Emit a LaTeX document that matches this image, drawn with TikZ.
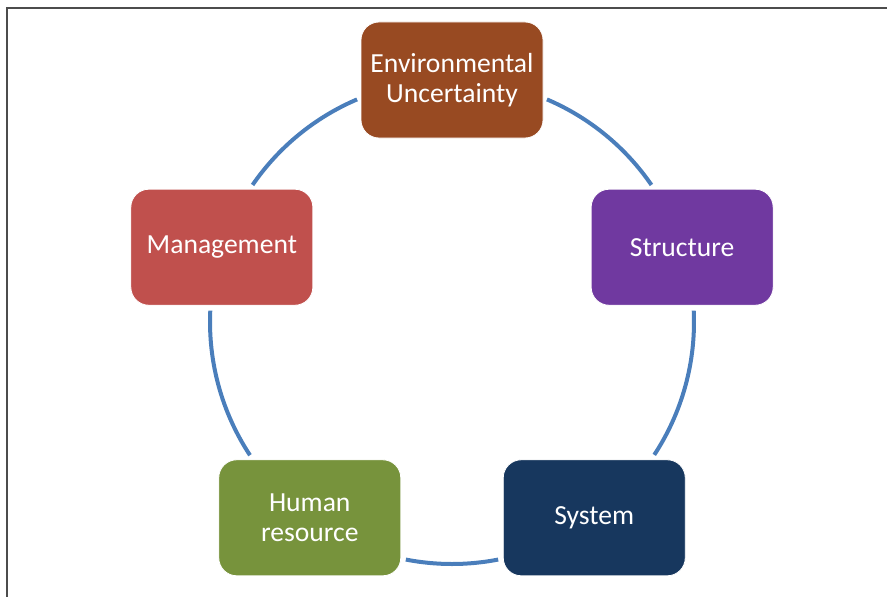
\documentclass[tikz,border=0pt]{standalone}
\usepackage{fontspec}
\setmainfont{Carlito}
\definecolor{envbrown}{HTML}{984A22}
\definecolor{strpurple}{HTML}{7039A0}
\definecolor{sysnavy}{HTML}{17375E}
\definecolor{hrgreen}{HTML}{77933C}
\definecolor{mgmtred}{HTML}{C0504D}
\definecolor{ringblue}{HTML}{4A7EBB}
\begin{document}
\begin{tikzpicture}[x=0.5pt,y=0.5pt,
  card/.style={rounded corners=9pt, minimum width=91pt, minimum height=58pt,
    inner sep=0pt, text=white, align=center, draw=white, line width=0.4pt,
    font=\fontsize{13.8}{15}\selectfont},
  ring/.style={draw=ringblue, line width=2pt}]
\useasboundingbox (0,0) rectangle (887,596);
\draw[black!70, line width=0.8pt] (7,-10) -- (7,588) -- (900,588);
\coordinate (c) at (452,274);
\node[card, fill=envbrown] (env) at ([shift={(90:242)}]c) {Environmental\\Uncertainty};
\node[card, fill=strpurple] (str) at ([shift={(18:242)}]c) {Structure};
\node[card, fill=sysnavy] (sys) at ([shift={(-54:242)}]c) {System};
\node[card, fill=hrgreen] (hr) at ([shift={(234:242)}]c) {Human\\resource};
\node[card, fill=mgmtred] (mgmt) at ([shift={(162:242)}]c) {Management};
\draw[ring] ([shift={(113.1:242)}]c) arc[start angle=113.1, end angle=145.5, radius=242];
\draw[ring] ([shift={(177.3:242)}]c) arc[start angle=177.3, end angle=213.4, radius=242];
\draw[ring] ([shift={(259:242)}]c) arc[start angle=259, end angle=281, radius=242];
\draw[ring] ([shift={(326.7:242)}]c) arc[start angle=326.7, end angle=362.7, radius=242];
\draw[ring] ([shift={(34.5:242)}]c) arc[start angle=34.5, end angle=66.9, radius=242];
\end{tikzpicture}
\end{document}
